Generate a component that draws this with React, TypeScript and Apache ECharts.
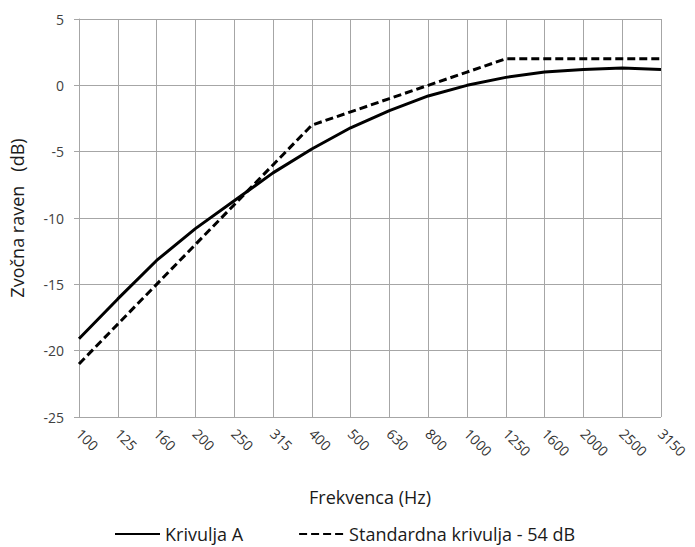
import React, { useEffect, useRef } from "react";
import * as echarts from "echarts";

const categories = ["100", "125", "160", "200", "250", "315", "400", "500", "630", "800", "1000", "1250", "1600", "2000", "2500", "3150"];
const krivuljaA = [-19.1, -16.1, -13.2, -10.8, -8.7, -6.6, -4.8, -3.2, -1.9, -0.8, 0, 0.6, 1.0, 1.2, 1.3, 1.2];
const standardna = [-21, -18, -15, -12, -9, -6, -3, -2, -1, 0, 1, 2, 2, 2, 2, 2];
const yTicks = { min: -25, max: 5, interval: 5 };

const FONT = "'Open Sans', 'Noto Sans', sans-serif";

export default function App() {
  const ref = useRef<HTMLDivElement>(null);
  useEffect(() => {
    if (!ref.current) return;
    const chart = echarts.init(ref.current, null, { renderer: "svg" });
    chart.setOption({
      animation: false,
      backgroundColor: "#ffffff",
      textStyle: { fontFamily: FONT },
      grid: { left: 77, right: 34, top: 19, bottom: 130, containLabel: false },
      legend: {
        top: 523,
        left: 114,
        padding: 0,
        itemWidth: 45,
        itemHeight: 14,
        itemGap: 55,
        itemStyle: { opacity: 0 },
        textStyle: { fontSize: 18, lineHeight: 22, color: "#1a1a1a", fontFamily: FONT },
        data: [
          { name: "Krivulja A" },
          { name: "Standardna krivulja - 54 dB" },
        ],
      },
      xAxis: {
        type: "category",
        data: categories,
        boundaryGap: false,
        name: "Frekvenca (Hz)",
        nameLocation: "middle",
        nameGap: 71,
        nameTextStyle: { fontSize: 18, color: "#1a1a1a", fontFamily: FONT },
        axisLine: { show: true, lineStyle: { color: "#a6a6a6", width: 1 } },
        axisTick: { show: true, alignWithLabel: true, length: 5, lineStyle: { color: "#a6a6a6" } },
        axisLabel: { rotate: -45, fontSize: 14, color: "#333333", margin: 14, interval: 0, fontFamily: FONT },
        splitLine: { show: true, lineStyle: { color: "#a6a6a6", width: 1 } },
      },
      yAxis: {
        type: "value",
        min: yTicks.min,
        max: yTicks.max,
        interval: yTicks.interval,
        name: "Zvočna raven   (dB)",
        nameLocation: "middle",
        nameGap: 53,
        nameTextStyle: { fontSize: 18, color: "#1a1a1a", fontFamily: FONT },
        axisLine: { show: true, lineStyle: { color: "#a6a6a6", width: 1 } },
        axisTick: { show: true, length: 5, lineStyle: { color: "#a6a6a6" } },
        axisLabel: { fontSize: 14, color: "#404040", margin: 15, fontFamily: FONT },
        splitLine: { show: true, lineStyle: { color: "#a6a6a6", width: 1 } },
      },
      series: [
        {
          name: "Krivulja A",
          type: "line",
          data: krivuljaA,
          symbol: "none",
          lineStyle: { color: "#000", width: 3, type: "solid" },
          itemStyle: { color: "#000" },
        },
        {
          name: "Standardna krivulja - 54 dB",
          type: "line",
          data: standardna,
          symbol: "none",
          lineStyle: { color: "#000", width: 3, type: [8, 4] },
          itemStyle: { color: "#000" },
        },
      ],
    });
    return () => chart.dispose();
  }, []);
  return <div ref={ref} style={{ width: 695, height: 547, position: "absolute", left: 0, top: 0 }} />;
}
